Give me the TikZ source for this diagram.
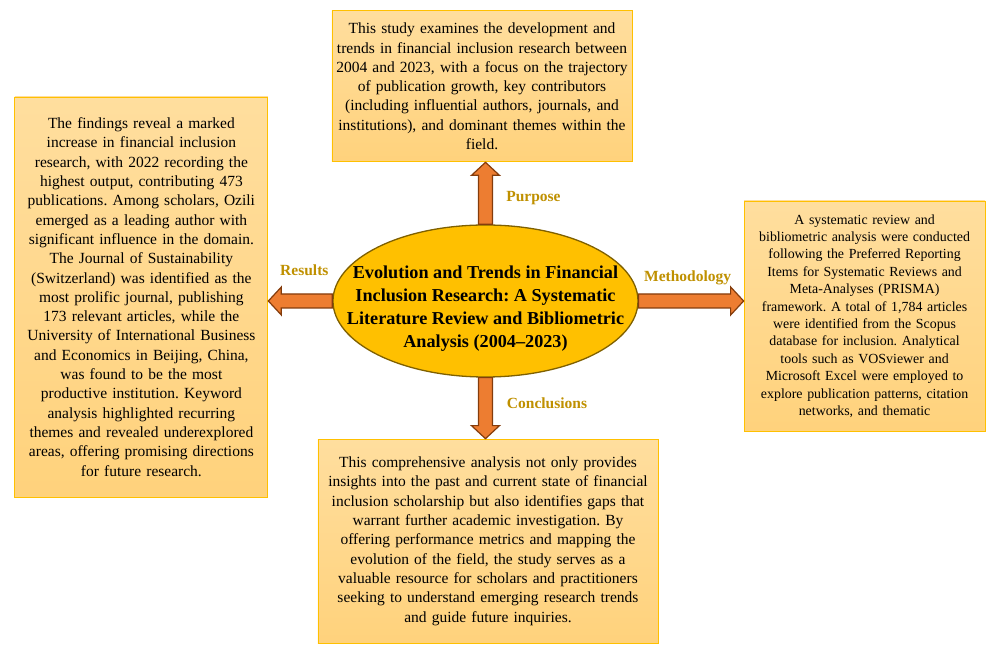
\documentclass[tikz,border=0pt]{standalone}
\usepackage{fontspec}
\setmainfont{Liberation Serif}
\usepackage{tikz}
\usetikzlibrary{positioning,calc,shapes.geometric}
\definecolor{boxtop}{HTML}{FFDE9E}
\definecolor{boxbot}{HTML}{FFD27C}
\definecolor{boxline}{HTML}{FFC000}
\definecolor{hubfill}{HTML}{FFC000}
\definecolor{hubline}{HTML}{7F6000}
\definecolor{arrowfill}{HTML}{ED7D31}
\definecolor{arrowline}{HTML}{843C0C}
\definecolor{tagtext}{HTML}{BF9000}
\frenchspacing
\newcommand{\fatarrow}[2]{%
  \path (#2) coordinate (tip) ($(#2)!13pt!(#1)$) coordinate (hb);
  \draw[fat] ($(#1)!7pt!90:(#2)$) -- ($(hb)!7pt!90:(tip)$) -- ($(hb)!14pt!90:(tip)$) -- (tip)
    -- ($(hb)!14pt!-90:(tip)$) -- ($(hb)!7pt!-90:(tip)$) -- ($(#1)!7pt!-90:(#2)$) -- cycle;}

\begin{document}
\begin{tikzpicture}[
  box/.style={draw=boxline,line width=0.9pt,top color=boxtop,bottom color=boxbot,align=center,inner xsep=4pt,inner ysep=0pt,font=\fontsize{15.5}{19.3}\selectfont},
  hub/.style={ellipse,draw=hubline,line width=1.3pt,fill=hubfill,minimum width=305pt,minimum height=152pt,inner xsep=-40pt,inner ysep=0pt,align=center,font=\bfseries\fontsize{18.2}{23}\selectfont},
  fat/.style={draw=arrowline,fill=arrowfill,line width=1.2pt,line join=miter},
  tag/.style={text=tagtext,font=\bfseries\fontsize{15.5}{18}\selectfont}]
\node[hub] (title) {\rule{0pt}{27pt}Evolution and Trends in Financial\\ Inclusion Research: A Systematic\\ Literature Review and Bibliometric\\ Analysis (2004--2023)};
\useasboundingbox ($(title)+(-485.5pt,-357pt)$) rectangle ($(title)+(519.5pt,301pt)$);
\node[box,text width=292pt,minimum height=151pt,above=62pt of title,xshift=-3.5pt] (purpose) {This study examines the development and\\ trends in financial inclusion research between\\ 2004 and 2023, with a focus on the trajectory\\ of publication growth, key contributors\\ (including influential authors, journals, and\\ institutions), and dominant themes within the\\ field.};
\node[box,text width=245pt,minimum height=400pt,left=64pt of title,yshift=4pt] (results) {The findings reveal a marked\\ increase in financial inclusion\\ research, with 2022 recording the\\ highest output, contributing 473\\ publications. Among scholars, Ozili\\ emerged as a leading author with\\ significant influence in the domain.\\ The Journal of Sustainability\\ (Switzerland) was identified as the\\ most prolific journal, publishing\\ 173 relevant articles, while the\\ University of International Business\\ and Economics in Beijing, China,\\ was found to be the most\\ productive institution. Keyword\\ analysis highlighted recurring\\ themes and revealed underexplored\\ areas, offering promising directions\\ for future research.};
\node[box,text width=233pt,minimum height=230pt,right=105pt of title,yshift=-15pt,font=\fontsize{13.9}{17.4}\selectfont] (method) {A systematic review and\\ bibliometric analysis were conducted\\ following the Preferred Reporting\\ Items for Systematic Reviews and\\ Meta-Analyses (PRISMA)\\ framework. A total of 1,784 articles\\ were identified from the Scopus\\ database for inclusion. Analytical\\ tools such as VOSviewer and\\ Microsoft Excel were employed to\\ explore publication patterns, citation\\ networks, and thematic};
\node[box,text width=332pt,minimum height=204pt,below=61pt of title,xshift=2.5pt] (concl) {This comprehensive analysis not only provides\\ insights into the past and current state of financial\\ inclusion scholarship but also identifies gaps that\\ warrant further academic investigation. By\\ offering performance metrics and mapping the\\ evolution of the field, the study serves as a\\ valuable resource for scholars and practitioners\\ seeking to understand emerging research trends\\ and guide future inquiries.};
\coordinate (uptip) at (title.north |- purpose.south);
\coordinate (lefttip) at (title.west -| results.east);
\coordinate (righttip) at (title.east -| method.west);
\coordinate (downtip) at (title.south |- concl.north);
\fatarrow{title.north}{uptip}
\fatarrow{title.west}{lefttip}
\fatarrow{title.east}{righttip}
\fatarrow{title.south}{downtip}
\node[tag] (purposetag) at ($(title.north)+(48pt,26pt)$) {Purpose};
\node[tag] (resultstag) at ($(title.west)+(-28pt,31pt)$) {Results};
\node[tag] (methodtag) at ($(title.east)+(49pt,23pt)$) {Methodology};
\node[tag] (concltag) at ($(title.south)+(61.5pt,-26pt)$) {Conclusions};
\end{tikzpicture}
\end{document}
